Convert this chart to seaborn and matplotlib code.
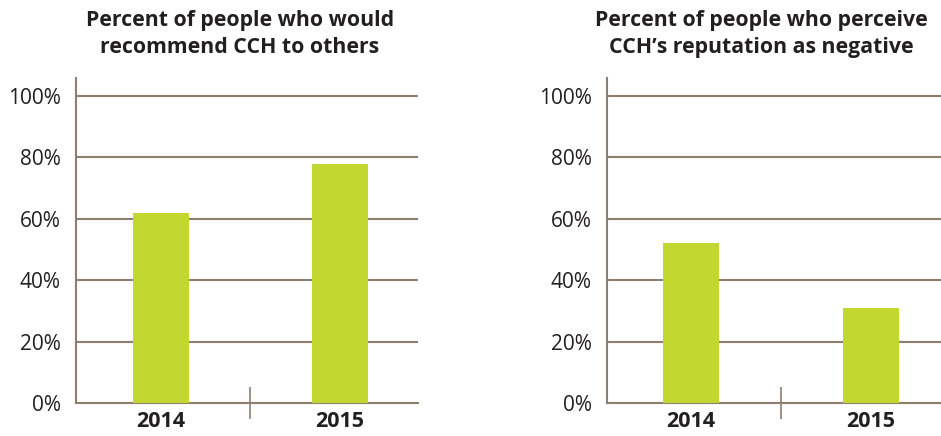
import matplotlib.pyplot as plt
import seaborn as sns
import pandas as pd

# Dados
years = ['2014', '2015']
recommend = [62, 78]
negative = [52, 31]
titles = ['Percent of people who would\nrecommend CCH to others',
          "Percent of people who perceive\nCCH\u2019s reputation as negative"]
yticks = [0, 20, 40, 60, 80, 100]

BAR_COLOR = '#c2d730'
LINE_COLOR = '#8c7f70'
TEXT_COLOR = '#231f20'

sns.set_theme(style='white')
plt.rcParams['font.family'] = ['Open Sans', 'DejaVu Sans']

fig = plt.figure(figsize=(9.41, 4.36), dpi=100)
ax1 = fig.add_axes([76 / 941, 33 / 436, 342 / 941, 325 / 436])
ax2 = fig.add_axes([607 / 941, 33 / 436, 334 / 941, 325 / 436])

panels = [(ax1, recommend, (-0.475, 1.436), 240),
          (ax2, negative, (-0.467, 1.39), 761)]

for (ax, values, xlim, title_x), title in zip(panels, titles):
    df = pd.DataFrame({'Year': years, 'Value': values})
    sns.barplot(data=df, x='Year', y='Value', color=BAR_COLOR, width=0.313,
                saturation=1, linewidth=0, ax=ax, zorder=3)
    ax.set_xlim(*xlim)
    ax.set_ylim(0, 105.9)
    ax.set_yticks(yticks)
    ax.set_yticklabels([f'{t}%' for t in yticks])
    ax.yaxis.grid(True, color=LINE_COLOR, linewidth=1.5)
    ax.set_axisbelow(True)
    ax.set_xlabel('')
    ax.set_ylabel('')

    for side in ['top', 'right']:
        ax.spines[side].set_visible(False)
    for side in ['left', 'bottom']:
        ax.spines[side].set_color(LINE_COLOR)
        ax.spines[side].set_linewidth(1.5)

    ax.tick_params(axis='y', length=0, pad=11, labelsize=15, labelcolor=TEXT_COLOR)
    ax.tick_params(axis='x', which='major', length=0, pad=6, labelsize=15.5,
                   labelcolor=TEXT_COLOR)
    for lbl in ax.get_xticklabels():
        lbl.set_fontweight('bold')

    # marcador entre as categorias
    ax.set_xticks([0.5], minor=True)
    ax.tick_params(axis='x', which='minor', bottom=True, direction='inout',
                   length=23, width=1.2, color=LINE_COLOR)

    fig.text(title_x / 941, 1 - 34 / 436, title, ha='center', va='center',
             fontsize=15.3, fontweight='bold', color=TEXT_COLOR, linespacing=1.35)

fig.savefig('out.png', dpi=100)
